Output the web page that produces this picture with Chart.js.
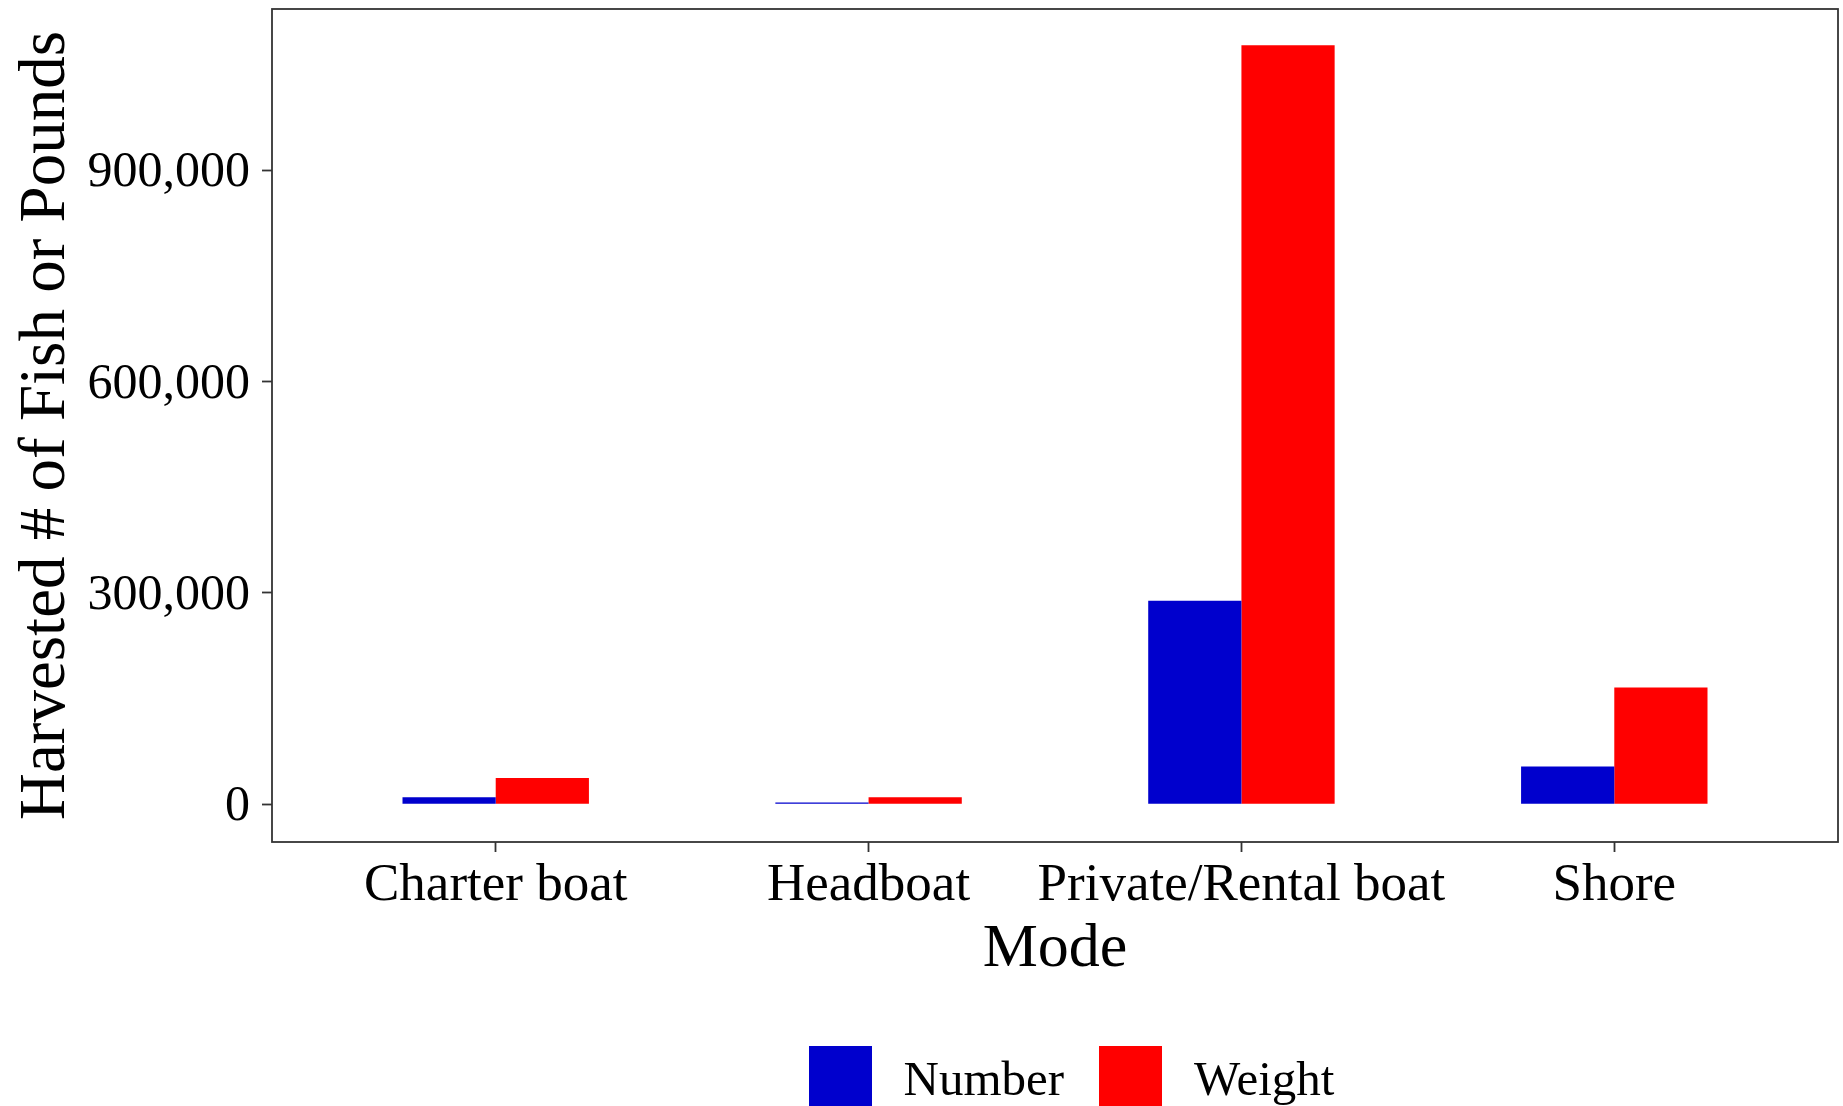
<!DOCTYPE html>
<html>
<head>
<meta charset="utf-8">
<script src="https://cdn.jsdelivr.net/npm/chart.js@4"></script>
<style>
  body { margin: 0; background: #ffffff; }
  #wrap { width: 1843px; height: 1106px; }
</style>
</head>
<body>
<div id="wrap"><canvas id="myChart"></canvas></div>
<script>
// harvest by fishing mode
var modes = ['Charter boat', 'Headboat', 'Private/Rental boat', 'Shore']
var numberVals = [10000, 2500, 289000, 53800]
var weightVals = [37200, 10000, 1077000, 165600]
var yTicks = [0, 300000, 600000, 900000]

var serif = 'Liberation Serif'
Chart.defaults.font.family = serif
Chart.defaults.color = '#000'

// big square legend keys (ggplot draws them taller than the text)
function keyBox(color) {
  var c = document.createElement('canvas')
  c.width = 63
  c.height = 72
  var g = c.getContext('2d')
  g.fillStyle = color
  g.fillRect(0, 0, 63, 72)
  return c
}

// ggplot style panel border
var frame = {
  id: 'frame',
  afterDatasetsDraw: function(chart) {
    var a = chart.chartArea
    var ctx = chart.ctx
    ctx.save()
    ctx.strokeStyle = '#333333'
    ctx.lineWidth = 1.8
    ctx.strokeRect(a.left, a.top, a.right - a.left, a.bottom - a.top)
    ctx.restore()
  }
}

// legend sits lower and to the right, like the original
var moveLegend = {
  id: 'moveLegend',
  afterLayout: function(chart) {
    var lg = chart.legend
    var p = lg.options.labels.padding
    var start = (lg.left + p + lg.right - lg.lineWidths[0]) / 2
    var dx = 801 - start
    var dy = 1057.5 - (lg.top + p)
    lg.left += dx
    lg.right += dx
    lg.top += dy
    lg.bottom += dy
  }
}

function pts(vals) {
  return vals.map(function(v, i) { return {x: i + 1, y: v} })
}

var ctx = document.getElementById('myChart').getContext('2d')
var chart = new Chart(ctx, {
  type: 'bar',
  data: {
    datasets: [{
      label: 'Number',
      data: pts(numberVals),
      backgroundColor: '#0000CD',
      pointStyle: keyBox('#0000CD'),
      borderWidth: 0
    }, {
      label: 'Weight',
      data: pts(weightVals),
      backgroundColor: '#FF0000',
      pointStyle: keyBox('#FF0000'),
      borderWidth: 0
    }]
  },
  options: {
    responsive: true,
    maintainAspectRatio: false,
    animation: false,
    events: [],
    categoryPercentage: 0.5,
    barPercentage: 1,
    layout: { padding: { top: 9, right: 5, left: 0, bottom: 0 } },
    plugins: {
      tooltip: { enabled: false },
      legend: {
        position: 'bottom',
        labels: {
          usePointStyle: true,
          pointStyleWidth: 78,
          padding: 27.5,
          color: '#000',
          font: { family: serif, size: 49 }
        }
      }
    },
    scales: {
      x: {
        type: 'linear',
        min: 0.4,
        max: 4.6,
        offset: false,
        afterBuildTicks: function(s) {
          s.ticks = modes.map(function(m, i) { return {value: i + 1} })
        },
        afterFit: function(s) {
          s.height = 177.5
          s.paddingLeft = 0
          s.paddingRight = 0
        },
        grid: {
          drawOnChartArea: false,
          offset: false,
          tickLength: 10,
          tickColor: '#333333',
          tickWidth: 1.8
        },
        border: { display: false },
        ticks: {
          autoSkip: false,
          maxRotation: 0,
          minRotation: 0,
          padding: 7.5,
          color: '#000',
          font: { family: serif, size: 53, lineHeight: 1 },
          callback: function(v) { return modes[v - 1] }
        },
        title: {
          display: true,
          text: 'Mode',
          color: '#000',
          font: { family: serif, size: 62, lineHeight: 1 },
          padding: { top: 0, bottom: 38.5 }
        }
      },
      y: {
        min: -53500,
        max: 1128500,
        afterBuildTicks: function(s) {
          s.ticks = yTicks.map(function(v) { return {value: v} })
        },
        afterFit: function(s) {
          s.width = 272
          s.paddingTop = 0
          s.paddingBottom = 0
        },
        grid: {
          drawOnChartArea: false,
          tickLength: 10,
          tickColor: '#333333',
          tickWidth: 1.8
        },
        border: { display: false },
        ticks: {
          padding: 12,
          labelOffset: 3,
          color: '#000',
          font: { family: serif, size: 50 },
          callback: function(v) { return v.toLocaleString('en-US') }
        },
        title: {
          display: true,
          text: 'Harvested # of Fish or Pounds',
          color: '#000',
          font: { family: serif, size: 65 },
          padding: { top: 8, bottom: 0 }
        }
      }
    }
  },
  plugins: [frame, moveLegend]
})
</script>
</body>
</html>
